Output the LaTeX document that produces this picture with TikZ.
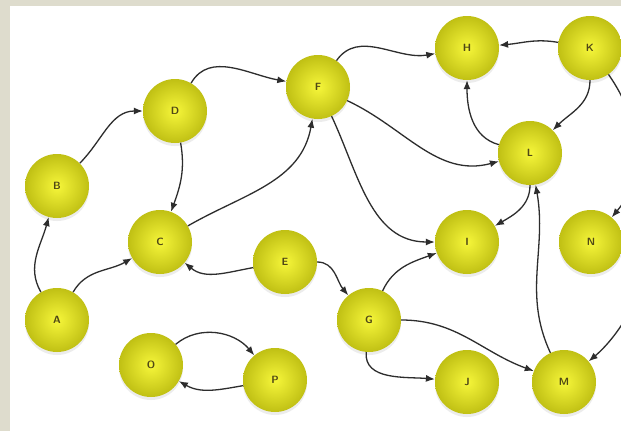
\documentclass[tikz,border=0pt]{standalone}
\usepackage{tikz}
\usetikzlibrary{arrows.meta}
\usetikzlibrary{shadows}

\definecolor{framebeige}{RGB}{222,220,205}
\definecolor{ballinner}{RGB}{246,246,58}
\definecolor{ballouter}{RGB}{192,192,20}
\definecolor{labelbrown}{RGB}{80,72,22}
\definecolor{linkgray}{RGB}{45,45,45}

\begin{document}
\begin{tikzpicture}[x=1pt, y=-1pt,
                          ballnode/.style={circle, minimum size=64pt, inner sep=0pt, shading=radial, inner color=ballinner, outer color=ballouter, drop shadow={shadow xshift=0pt, shadow yshift=-3pt, opacity=0.15}, text=labelbrown, font=\sffamily\bfseries\fontsize{10.5}{10.5}\selectfont},
                          linkarrow/.style={draw=linkgray, line width=1.3pt, -{Latex[length=9pt,width=7pt]}},
                      ]
                      %Frame
                      \fill[framebeige] (0,0) rectangle (621,431);
                      \fill[white] (10,6) rectangle (621,431);
                      \useasboundingbox (0,0) rectangle (621,431);

                      %Nodes
                      \node[ballnode] (A) at (57,320)  {A};
                      \node[ballnode] (B) at (57,186)  {B};
                      \node[ballnode] (C) at (160,242) {C};
                      \node[ballnode] (D) at (175,111) {D};
                      \node[ballnode] (E) at (285,262) {E};
                      \node[ballnode] (F) at (318,87)  {F};
                      \node[ballnode] (G) at (369,320) {G};
                      \node[ballnode] (H) at (467,48)  {H};
                      \node[ballnode] (I) at (467,242) {I};
                      \node[ballnode] (J) at (467,382) {J};
                      \node[ballnode] (K) at (590,48)  {K};
                      \node[ballnode] (L) at (530,153) {L};
                      \node[ballnode] (M) at (564,382) {M};
                      \node[ballnode] (N) at (591,242) {N};
                      \node[ballnode] (O) at (151,365) {O};
                      \node[ballnode] (P) at (275,380) {P};

                      %Lines
                      \draw[linkarrow] (A) to[out=120, in=-105] (B);
                      \draw[linkarrow] (A) to[out=60, in=-150] (C);
                      \draw[linkarrow] (B) to[out=45, in=180] (D);
                      \draw[linkarrow] (D) to[out=60, in=170] (F);
                      \draw[linkarrow] (D) to[out=-80, in=70] (C);
                      \draw[linkarrow] (C) to[out=30, in=-100] (F);
                      \draw[linkarrow] (E) to[out=190, in=-40] (C);
                      \draw[linkarrow] (E) to[out=0, in=130] (G);
                      \draw[linkarrow] (F) to[out=55, in=190] (H);
                      \draw[linkarrow] (F) to[out=-25, in=-165] (L);
                      \draw[linkarrow] (F) to[out=-65, in=180] (I);
                      \draw[linkarrow] (K) to[out=170, in=5] (H);
                      \draw[linkarrow] (K) to[out=-90, in=45] (L);
                      \draw[linkarrow] (L) to[out=165, in=-90] (H);
                      \draw[linkarrow] (L) to[out=-90, in=30] (I);
                      \draw[linkarrow] (M) to[out=115, in=-80] (L);
                      \draw[linkarrow] (G) to[out=65, in=-160] (I);
                      \draw[linkarrow] (G) to[out=0, in=160] (M);
                      \draw[linkarrow] (G) to[out=-95, in=175] (J);
                      \draw[linkarrow] (O) to[out=40, in=130] (P);
                      \draw[linkarrow] (P) to[out=190, in=-30] (O);
                      \draw[linkarrow] (K) to[out=-55, in=50] (N);
                      \draw[linkarrow] (N) to[out=-20, in=40] (M);
                  \end{tikzpicture}
\end{document}
